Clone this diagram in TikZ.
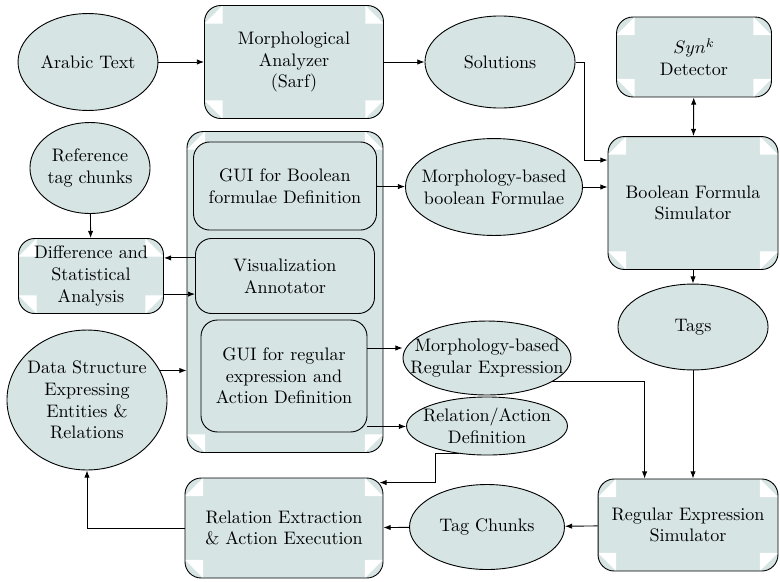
\documentclass[tikz,border=0pt]{standalone}
\usepackage{amsmath}
\usepackage{tikz}
\usetikzlibrary{
  shapes.geometric
  , calc
  , arrows.meta
}
\definecolor{panefill}{RGB}{214,228,228}
\tikzset{
  blob/.style={ellipse, draw=black, fill=panefill, inner sep=0pt,
    label={[align=center]center:#1}},
  pane/.style={rectangle, rounded corners=9pt, draw=black, fill=panefill,
    align=center, inner sep=0pt},
  % white bits in the corners
  nicks/.style={path picture={
    \fill[white, sharp corners] ([xshift=10pt]path picture bounding box.north west) -- ++(0pt,-10pt) -- ++(-10pt,0pt) -- cycle;
    \fill[white, sharp corners] ([xshift=-10pt]path picture bounding box.north east) -- ++(0pt,-10pt) -- ++(10pt,0pt) -- cycle;
    \fill[white, sharp corners] ([xshift=10pt]path picture bounding box.south west) -- ++(0pt,10pt) -- ++(-10pt,0pt) -- cycle;
    \fill[white, sharp corners] ([xshift=-10pt]path picture bounding box.south east) -- ++(0pt,10pt) -- ++(10pt,0pt) -- cycle;
  }}
}

\begin{document}
\begin{tikzpicture}[x=0.553pt, y=-0.553pt, line width=0.5pt,
    >={Latex[length=4pt,width=3pt]}]
  \useasboundingbox (0,0) rectangle (780,581);

  % top row
  \node[blob={Arabic Text}, minimum width=77.4pt, minimum height=53.6pt] (arabic) at (88,62) {};
  \node[pane, nicks, minimum width=99pt, minimum height=62.5pt] (morph) at (294,62) {Morphological\\Analyzer\\(Sarf)};
  \node[blob={Solutions}, minimum width=83pt, minimum height=50.9pt] (solutions) at (500,62) {};
  \node[pane, nicks, minimum width=85.7pt, minimum height=44.2pt] (synk) at (694,57) {$Syn^k$\\Detector};
  \node[pane, nicks, minimum width=94pt, minimum height=73.5pt] (boolsim) at (693,203) {Boolean Formula\\Simulator};

  % left column
  \node[blob={Reference\\tag chunks}, minimum width=66.4pt, minimum height=50.3pt] (reftag) at (90,168) {};
  \node[pane, nicks, minimum width=80.2pt, minimum height=41.5pt] (diff) at (91,276) {Difference and\\Statistical\\Analysis};
  \node[blob={Data Structure\\Expressing\\Entities \&\\Relations}, minimum width=88.5pt, minimum height=77.4pt] (datastruct) at (87,400) {};

  % GUI block
  \node[pane, nicks, minimum width=108.4pt, minimum height=177.5pt] (gui) at (285,292) {};
  \node[pane, minimum width=101.2pt, minimum height=48.7pt] (guibool) at (285,186) {GUI for Boolean\\formulae Definition};
  \node[pane, minimum width=99pt, minimum height=41.5pt] (visann) at (285,276) {Visualization\\Annotator};
  \node[pane, minimum width=91.8pt, minimum height=61.9pt] (guireg) at (284,376) {GUI for regular\\expression and\\Action Definition};

  % middle column
  \node[blob={Morphology-based\\boolean Formulae}, minimum width=97.9pt, minimum height=53.6pt] (mbool) at (494,187) {};
  \node[blob={Morphology-based\\Regular Expression}, minimum width=92.9pt, minimum height=40.9pt] (mregex) at (487,358) {};
  \node[blob={Relation/Action\\Definition}, minimum width=89pt, minimum height=32.1pt] (reldef) at (487,426) {};
  \node[blob={Tags}, minimum width=83pt, minimum height=47.5pt] (tags) at (693,327) {};

  % bottom row
  \node[pane, nicks, minimum width=109.5pt, minimum height=55.3pt] (relext) at (284,528) {Relation Extraction\\\& Action Execution};
  \node[blob={Tag Chunks}, minimum width=85.7pt, minimum height=47pt] (tagchunks) at (487,527) {};
  \node[pane, nicks, minimum width=99.5pt, minimum height=50.9pt] (regsim) at (688,525) {Regular Expression\\Simulator};

  \coordinate (boolin) at ($(boolsim.north west)+(0,24)$);
  \coordinate (regin) at ($(regsim.north west)+(47,0)$);
  \coordinate (relin) at ($(relext.north east)+(-4,5)$);

  \draw[->] (arabic) -- (morph);
  \draw[->] (morph) -- (solutions);
  \draw[->] (solutions.east) -- ++(9,0) |- (boolin);
  \draw[->] (guibool) -- (mbool);
  \draw[->] (mbool.east) -- (mbool.east -| boolsim.west);
  \draw[<->] (synk) -- (boolsim);
  \draw[->] (boolsim) -- (tags);
  \draw[->] (tags.south) -- (tags.south |- regsim.north);
  \draw[->] (mregex.-20) -| (regin);
  \draw[->] (reftag) -- (diff);
  \draw[->] ([yshift=10pt]visann.west) -- ([yshift=10pt]visann.west -| diff.east);
  \draw[->] ([yshift=-10pt]diff.east) -- ([yshift=-10pt]diff.east -| visann.west);
  \draw[->] (datastruct.22) -- (datastruct.22 -| gui.west);
  \draw[->] ([yshift=15.5pt]guireg.east) -- ([yshift=15.5pt]guireg.east -| mregex.west);
  \draw[->] ([yshift=3.3pt]guireg.south east) -- ([yshift=3.3pt]guireg.south east -| reldef.west);
  \draw[->] (reldef.-135) -- ++(-24,0) |- (relin);
  \draw[->] (regsim) -- (tagchunks);
  \draw[->] (tagchunks) -- (relext);
  \draw[->] (relext.west) -| (datastruct.south);
\end{tikzpicture}
\end{document}
